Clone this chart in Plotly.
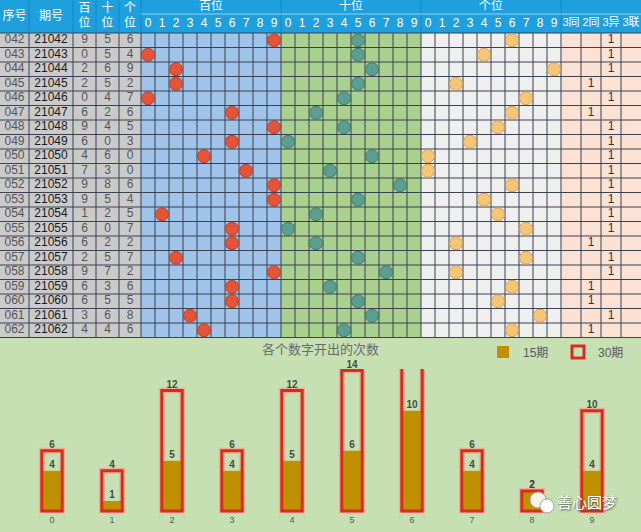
import plotly.graph_objects as go

# ---------------- data ----------------
serial = ["042", "043", "044", "045", "046", "047", "048", "049", "050", "051", "052",
          "053", "054", "055", "056", "057", "058", "059", "060", "061", "062"]
issue = ["21042", "21043", "21044", "21045", "21046", "21047", "21048", "21049", "21050",
         "21051", "21052", "21053", "21054", "21055", "21056", "21057", "21058", "21059",
         "21060", "21061", "21062"]
hundreds = [9, 0, 2, 2, 0, 6, 9, 6, 4, 7, 9, 9, 1, 6, 6, 2, 9, 6, 6, 3, 4]
tens = [5, 5, 6, 5, 4, 2, 4, 0, 6, 3, 8, 5, 2, 0, 2, 5, 7, 3, 5, 6, 4]
units = [6, 4, 9, 2, 7, 6, 5, 3, 0, 0, 6, 4, 5, 7, 2, 7, 2, 6, 5, 8, 6]
pattern = ["3异", "3异", "3异", "2同", "3异", "2同", "3异", "3异", "3异", "3异", "3异",
           "3异", "3异", "3异", "2同", "3异", "3异", "2同", "2同", "3异", "2同"]
pattern_cols = ["3同", "2同", "3异", "3联"]
info_headers = ["序号", "期号", "百<br>位", "十<br>位", "个<br>位"]
group_headers = ["百位", "十位", "个位"]
digit_labels = ["0", "1", "2", "3", "4", "5", "6", "7", "8", "9"]

chart_digits = [0, 1, 2, 3, 4, 5, 6, 7, 8, 9]
count15 = [4, 1, 5, 4, 5, 6, 10, 4, 2, 4]
count30 = [6, 4, 12, 6, 12, 14, 18, 6, 2, 10]
chart_title = "各个数字开出的次数"
legend_names = ["15期", "30期"]
watermark = "善心圆梦"

# ---------------- geometry / styles ----------------
W, H = 641, 532
TABLE_H = 340
HDR1, HDR2 = 14, 33
ROW_H = 14.5
NROW = len(serial)
info_edges = [0, 29, 73, 96, 119, 141]
group_x0 = [141, 281, 421]
DIG_W = 14.0
FORM_X0 = 561
FORM_W = 20
TABLE_BOTTOM = HDR2 + NROW * ROW_H
YMAX = 14.15

FONT = "Liberation Sans, Noto Sans CJK SC, sans-serif"
HDR_BLUE = "#1FA0DE"
region_fill = ["#A0C3EA", "#A9D08E", "#EFEFEF"]
circle_fill = ["#E2553A", "#5C9E90", "#F5C679"]
circle_edge = ["#C23C22", "#3E7C6E", "#D7A04C"]
GRID_COL = "#3A4150"

row_c = [HDR2 + ROW_H * (i + 0.5) for i in range(NROW)]

fig = go.Figure()
shapes = []

# backgrounds
shapes.append(dict(type="rect", xref="x", yref="y", x0=0, x1=W, y0=0, y1=HDR2,
                   fillcolor=HDR_BLUE, line_width=0, layer="below"))
shapes.append(dict(type="rect", xref="x", yref="y", x0=0, x1=info_edges[-1], y0=HDR2,
                   y1=TABLE_BOTTOM, fillcolor="#CACACA", line_width=0, layer="below"))
for g in range(3):
    shapes.append(dict(type="rect", xref="x", yref="y", x0=group_x0[g],
                       x1=group_x0[g] + 10 * DIG_W, y0=HDR2, y1=TABLE_BOTTOM,
                       fillcolor=region_fill[g], line_width=0, layer="below"))
shapes.append(dict(type="rect", xref="x", yref="y", x0=FORM_X0, x1=W, y0=HDR2,
                   y1=TABLE_BOTTOM, fillcolor="#FBE2D5", line_width=0, layer="below"))

# grid lines (data area)
gx, gy = [], []
vlines = info_edges[1:] + [141 + DIG_W * k for k in range(1, 31)] + \
    [FORM_X0 + FORM_W * k for k in range(1, 4)]
for xv in vlines:
    gx += [xv, xv, None]
    gy += [HDR2, TABLE_BOTTOM, None]
for k in range(NROW + 1):
    yv = HDR2 + ROW_H * k
    gx += [0, W, None]
    gy += [yv, yv, None]
fig.add_trace(go.Scatter(x=gx, y=gy, mode="lines", line=dict(color=GRID_COL, width=1),
                         hoverinfo="skip", showlegend=False, xaxis="x", yaxis="y"))

# header lines
hx, hy = [], []
for xv in info_edges[1:] + [281, 421, FORM_X0]:
    hx += [xv, xv, None]
    hy += [0, HDR2, None]
fig.add_trace(go.Scatter(x=hx, y=hy, mode="lines", line=dict(color="#1786C2", width=1),
                         hoverinfo="skip", showlegend=False, xaxis="x", yaxis="y"))
fig.add_trace(go.Scatter(x=[141, W], y=[HDR1, HDR1], mode="lines",
                         line=dict(color="#8ED0F2", width=1),
                         hoverinfo="skip", showlegend=False, xaxis="x", yaxis="y"))

# header texts
htx, hty, htt = [], [], []
for c, t in enumerate(info_headers):
    htx.append((info_edges[c] + info_edges[c + 1]) / 2)
    hty.append(HDR2 / 2)
    htt.append(t)
for g, t in enumerate(group_headers):
    htx.append(group_x0[g] + 5 * DIG_W)
    hty.append(HDR1 / 2)
    htt.append(t)
    for d, lab in enumerate(digit_labels):
        htx.append(group_x0[g] + DIG_W * (d + 0.5))
        hty.append((HDR1 + HDR2) / 2)
        htt.append(lab)
fig.add_trace(go.Scatter(x=htx, y=hty, text=htt, mode="text",
                         textfont=dict(family=FONT, size=12, color="white"),
                         hoverinfo="skip", showlegend=False, xaxis="x", yaxis="y"))
fig.add_trace(go.Scatter(x=[FORM_X0 + FORM_W * (k + 0.5) for k in range(4)],
                         y=[(HDR1 + HDR2) / 2] * 4, text=pattern_cols, mode="text",
                         textfont=dict(family=FONT, size=11, color="white"),
                         hoverinfo="skip", showlegend=False, xaxis="x", yaxis="y"))

# info column texts
info_cols = [serial, issue, [str(v) for v in hundreds], [str(v) for v in tens],
             [str(v) for v in units]]
info_colors = ["#555555", "#1A1A1A", "#555555", "#555555", "#555555"]
for c in range(5):
    fig.add_trace(go.Scatter(x=[(info_edges[c] + info_edges[c + 1]) / 2] * NROW, y=row_c,
                             text=info_cols[c], mode="text",
                             textfont=dict(family=FONT, size=12, color=info_colors[c]),
                             hoverinfo="skip", showlegend=False, xaxis="x", yaxis="y"))

# circles
for g, vals in enumerate([hundreds, tens, units]):
    fig.add_trace(go.Scatter(x=[group_x0[g] + DIG_W * (v + 0.5) for v in vals], y=row_c,
                             mode="markers",
                             marker=dict(size=13, color=circle_fill[g],
                                         line=dict(color=circle_edge[g], width=1)),
                             hoverinfo="skip", showlegend=False, xaxis="x", yaxis="y"))

# pattern column "1"
fig.add_trace(go.Scatter(x=[FORM_X0 + FORM_W * (pattern_cols.index(p) + 0.5) for p in pattern],
                         y=row_c, text=["1"] * NROW, mode="text",
                         textfont=dict(family=FONT, size=12, color="#333333"),
                         hoverinfo="skip", showlegend=False, xaxis="x", yaxis="y"))

# ---------------- bar chart ----------------
fig.add_trace(go.Bar(x=chart_digits, y=count30, width=0.34, xaxis="x2", yaxis="y2",
                     marker=dict(color="rgba(0,0,0,0)",
                                 line=dict(color="rgba(246,166,150,0.85)", width=6)),
                     showlegend=False, hoverinfo="skip"))
fig.add_trace(go.Bar(x=chart_digits, y=count15, width=0.30, xaxis="x2", yaxis="y2",
                     name=legend_names[0], marker=dict(color="#BF9000", line_width=0)))
fig.add_trace(go.Bar(x=chart_digits, y=count30, width=0.34, xaxis="x2", yaxis="y2",
                     name=legend_names[1],
                     marker=dict(color="rgba(0,0,0,0)", line=dict(color="#D52F1C", width=3))))
for vals in [count30, count15]:
    fig.add_trace(go.Scatter(x=chart_digits, y=[v if v <= YMAX else None for v in vals],
                             text=[str(v) for v in vals], mode="text",
                             textposition="top center", cliponaxis=False,
                             textfont=dict(family=FONT, size=10, color="#3E4F3E", weight="bold"),
                             xaxis="x2", yaxis="y2", showlegend=False, hoverinfo="skip"))

# watermark icon
shapes.append(dict(type="circle", xref="paper", yref="paper",
                   x0=530 / W, x1=546 / W, y0=1 - 508 / H, y1=1 - 492 / H,
                   fillcolor="rgba(255,255,255,0.9)", line=dict(color="#A0A0A0", width=1)))
shapes.append(dict(type="circle", xref="paper", yref="paper",
                   x0=540 / W, x1=554 / W, y0=1 - 513 / H, y1=1 - 499 / H,
                   fillcolor="rgba(255,255,255,0.95)", line=dict(color="#A0A0A0", width=1)))

fig.update_layout(
    width=W, height=H, margin=dict(l=0, r=0, t=0, b=0, autoexpand=False),
    paper_bgcolor="#C6E0B4", plot_bgcolor="rgba(0,0,0,0)",
    barmode="overlay", shapes=shapes,
    xaxis=dict(domain=[0, 1], range=[0, W], visible=False, fixedrange=True),
    yaxis=dict(domain=[1 - TABLE_H / H, 1], range=[TABLE_H, 0], visible=False,
               fixedrange=True),
    xaxis2=dict(domain=[0, 1], range=[-52 / 60, 589 / 60], anchor="y2",
                tickvals=chart_digits, ticktext=[str(d) for d in chart_digits],
                tickfont=dict(family=FONT, size=9, color="#595959"),
                showgrid=False, zeroline=False, showline=False, ticks="",
                automargin=False),
    yaxis2=dict(domain=[19 / H, 1 - 369 / H], range=[-0.2, YMAX], anchor="x2",
                visible=False),
    legend=dict(orientation="h", x=483 / W, y=1 - 352 / H, xanchor="left", yanchor="middle",
                font=dict(family=FONT, size=12, color="#595959"),
                bgcolor="rgba(0,0,0,0)", itemwidth=30, entrywidth=30,
                entrywidthmode="pixels"),
    annotations=[
        dict(text=chart_title, x=320 / W, y=1 - 349.5 / H, xref="paper", yref="paper",
             xanchor="center", yanchor="middle",
             showarrow=False, font=dict(family=FONT, size=13, color="#6A6A6A")),
        dict(text=watermark, x=587 / W, y=1 - 502 / H, xref="paper", yref="paper",
             xanchor="center", yanchor="middle", showarrow=False,
             font=dict(family=FONT, size=15, color="white", shadow="1px 1px 2px #555")),
    ],
)

fig.write_html("out.html", config={"displayModeBar": False},
               post_script="document.body.style.margin='0px';")
